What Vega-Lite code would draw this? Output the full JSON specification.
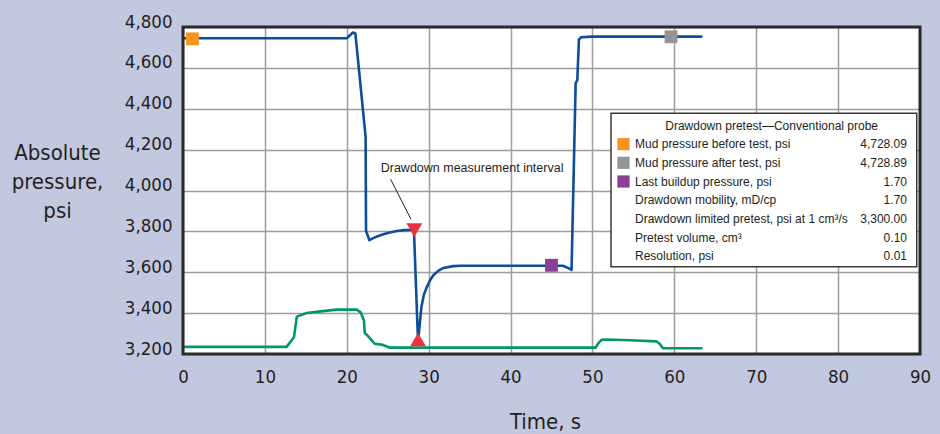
{
  "$schema": "https://vega.github.io/schema/vega-lite/v6.json",
  "width": 737,
  "height": 327,
  "autosize": {"type": "none"},
  "padding": {"left": 183, "top": 27, "right": 20, "bottom": 80},
  "background": "#c3c8e1",
  "config": {
    "font": "DejaVu Sans Condensed, sans-serif",
    "view": {"fill": "white", "stroke": null},
    "axis": {
      "domain": false,
      "ticks": false,
      "grid": true,
      "gridColor": "#9d9d9d",
      "gridWidth": 1.5,
      "labelFont": "DejaVu Sans Condensed, sans-serif",
      "labelFontSize": 18.5,
      "labelColor": "#231f20",
      "titleFont": "DejaVu Sans Condensed, sans-serif",
      "titleFontSize": 22,
      "titleFontWeight": "normal",
      "titleColor": "#231f20",
      "labelFlush": false,
      "labelOverlap": false
    }
  },
  "datasets": {
    "curves": [
      {"series": "Probe pressure", "t": 0, "p": 4745},
      {"series": "Probe pressure", "t": 20.0, "p": 4745},
      {"series": "Probe pressure", "t": 20.75, "p": 4773},
      {"series": "Probe pressure", "t": 21.05, "p": 4768},
      {"series": "Probe pressure", "t": 22.3, "p": 4262},
      {"series": "Probe pressure", "t": 22.35, "p": 3803},
      {"series": "Probe pressure", "t": 22.75, "p": 3757},
      {"series": "Probe pressure", "t": 23.3, "p": 3768},
      {"series": "Probe pressure", "t": 24.0, "p": 3780},
      {"series": "Probe pressure", "t": 25.0, "p": 3792},
      {"series": "Probe pressure", "t": 26.1, "p": 3802},
      {"series": "Probe pressure", "t": 27.0, "p": 3806},
      {"series": "Probe pressure", "t": 28.2, "p": 3808},
      {"series": "Probe pressure", "t": 28.7, "p": 3262},
      {"series": "Probe pressure", "t": 28.9, "p": 3340},
      {"series": "Probe pressure", "t": 29.1, "p": 3425},
      {"series": "Probe pressure", "t": 29.4, "p": 3488},
      {"series": "Probe pressure", "t": 29.75, "p": 3525},
      {"series": "Probe pressure", "t": 30.2, "p": 3563},
      {"series": "Probe pressure", "t": 30.6, "p": 3586},
      {"series": "Probe pressure", "t": 31.2, "p": 3608},
      {"series": "Probe pressure", "t": 31.8, "p": 3621},
      {"series": "Probe pressure", "t": 33.0, "p": 3630},
      {"series": "Probe pressure", "t": 34.0, "p": 3632},
      {"series": "Probe pressure", "t": 46.4, "p": 3632},
      {"series": "Probe pressure", "t": 47.05, "p": 3620},
      {"series": "Probe pressure", "t": 47.45, "p": 3612},
      {"series": "Probe pressure", "t": 47.95, "p": 4525},
      {"series": "Probe pressure", "t": 48.15, "p": 4540},
      {"series": "Probe pressure", "t": 48.35, "p": 4738},
      {"series": "Probe pressure", "t": 48.6, "p": 4750},
      {"series": "Probe pressure", "t": 49.9, "p": 4753},
      {"series": "Probe pressure", "t": 63.3, "p": 4753},
      {"series": "Pretest", "t": 0, "p": 3235},
      {"series": "Pretest", "t": 12.65, "p": 3235},
      {"series": "Pretest", "t": 13.55, "p": 3282},
      {"series": "Pretest", "t": 13.9, "p": 3383},
      {"series": "Pretest", "t": 15.1, "p": 3401},
      {"series": "Pretest", "t": 16.3, "p": 3406},
      {"series": "Pretest", "t": 18.75, "p": 3417},
      {"series": "Pretest", "t": 21.2, "p": 3417},
      {"series": "Pretest", "t": 21.7, "p": 3404},
      {"series": "Pretest", "t": 22.1, "p": 3363},
      {"series": "Pretest", "t": 22.2, "p": 3303},
      {"series": "Pretest", "t": 22.8, "p": 3279},
      {"series": "Pretest", "t": 23.4, "p": 3250},
      {"series": "Pretest", "t": 24.25, "p": 3246},
      {"series": "Pretest", "t": 25.3, "p": 3231},
      {"series": "Pretest", "t": 50.4, "p": 3231},
      {"series": "Pretest", "t": 50.7, "p": 3252},
      {"series": "Pretest", "t": 51.1, "p": 3269},
      {"series": "Pretest", "t": 51.7, "p": 3271},
      {"series": "Pretest", "t": 54.6, "p": 3267},
      {"series": "Pretest", "t": 57.8, "p": 3262},
      {"series": "Pretest", "t": 58.2, "p": 3250},
      {"series": "Pretest", "t": 58.6, "p": 3228},
      {"series": "Pretest", "t": 63.3, "p": 3228}
    ],
    "markers": [
      {"marker": "Mud pressure before test", "t": 1.15, "p": 4742},
      {"marker": "Mud pressure after test", "t": 59.6, "p": 4752},
      {"marker": "Last buildup pressure", "t": 45.0, "p": 3634},
      {"marker": "Interval start", "t": 28.25, "p": 3806},
      {"marker": "Interval end", "t": 28.7, "p": 3271}
    ],
    "table": [
      {"row": 0, "label": "Drawdown pretest—Conventional probe", "value": ""},
      {"row": 1, "label": "Mud pressure before test, psi", "value": "4,728.09", "marker": "Mud pressure before test"},
      {"row": 2, "label": "Mud pressure after test, psi", "value": "4,728.89", "marker": "Mud pressure after test"},
      {"row": 3, "label": "Last buildup pressure, psi", "value": "1.70", "marker": "Last buildup pressure"},
      {"row": 4, "label": "Drawdown mobility, mD/cp", "value": "1.70"},
      {"row": 5, "label": "Drawdown limited pretest, psi at 1 cm³/s", "value": "3,300.00"},
      {"row": 6, "label": "Pretest volume, cm³", "value": "0.10"},
      {"row": 7, "label": "Resolution, psi", "value": "0.01"}
    ]
  },
  "layer": [
    {
      "layer": [
        {
          "data": {"name": "curves"},
          "mark": {"type": "line", "strokeWidth": 2.6, "strokeJoin": "round", "strokeCap": "round"},
          "encoding": {
            "x": {
              "field": "t", "type": "quantitative",
              "scale": {"domain": [0, 90], "nice": false, "zero": false},
              "axis": {"values": [0, 10, 20, 30, 40, 50, 60, 70, 80, 90], "format": "d", "title": "Time, s", "titleX": 362, "titleY": 74, "titleBaseline": "alphabetic", "labelBaseline": "alphabetic", "labelPadding": 28}
            },
            "y": {
              "field": "p", "type": "quantitative",
              "scale": {"domain": [3200, 4800], "nice": false, "zero": false},
              "axis": {"values": [3200, 3400, 3600, 3800, 4000, 4200, 4400, 4600, 4800], "format": ",d", "title": ["Absolute", "pressure,", "psi"], "titleAngle": 0, "titleAlign": "center", "titleBaseline": "alphabetic", "titleX": -126, "titleY": 132, "titleLineHeight": 29, "labelBaseline": "alphabetic", "labelPadding": 11}
            },
            "stroke": {
              "field": "series", "type": "nominal",
              "scale": {"domain": ["Probe pressure", "Pretest"], "range": ["#0d4e9a", "#00976d"]},
              "legend": null
            }
          }
        },
        {
          "data": {"values": [{}]},
          "mark": {"type": "rule", "color": "#231f20", "strokeWidth": 1},
          "encoding": {
            "x": {"datum": 25.36, "type": "quantitative",
              "axis": {"values": [0, 10, 20, 30, 40, 50, 60, 70, 80, 90], "format": "d", "title": "Time, s", "titleX": 362, "titleY": 74, "titleBaseline": "alphabetic", "labelBaseline": "alphabetic", "labelPadding": 28}},
            "x2": {"datum": 27.84},
            "y": {"datum": 4055, "type": "quantitative",
              "axis": {"values": [3200, 3400, 3600, 3800, 4000, 4200, 4400, 4600, 4800], "format": ",d", "title": ["Absolute", "pressure,", "psi"], "titleAngle": 0, "titleAlign": "center", "titleBaseline": "alphabetic", "titleX": -126, "titleY": 132, "titleLineHeight": 29, "labelBaseline": "alphabetic", "labelPadding": 11}},
            "y2": {"datum": 3859}
          }
        },
        {
          "data": {"values": [{}]},
          "mark": {"type": "text", "text": "Drawdown measurement interval", "font": "Liberation Sans, Arial, sans-serif", "fontSize": 12.5, "color": "#231f20", "align": "center", "baseline": "middle"},
          "encoding": {
            "x": {"datum": 35.3, "type": "quantitative",
              "axis": {"values": [0, 10, 20, 30, 40, 50, 60, 70, 80, 90], "format": "d", "title": "Time, s", "titleX": 362, "titleY": 74, "titleBaseline": "alphabetic", "labelBaseline": "alphabetic", "labelPadding": 28}},
            "y": {"datum": 4108, "type": "quantitative",
              "axis": {"values": [3200, 3400, 3600, 3800, 4000, 4200, 4400, 4600, 4800], "format": ",d", "title": ["Absolute", "pressure,", "psi"], "titleAngle": 0, "titleAlign": "center", "titleBaseline": "alphabetic", "titleX": -126, "titleY": 132, "titleLineHeight": 29, "labelBaseline": "alphabetic", "labelPadding": 11}}
          }
        },
        {
          "data": {"name": "markers"},
          "transform": [{"filter": "datum.marker == 'Interval start' || datum.marker == 'Interval end'"}],
          "mark": {"type": "point", "filled": true, "opacity": 1, "size": 250, "strokeWidth": 0},
          "encoding": {
            "x": {"field": "t", "type": "quantitative",
              "axis": {"values": [0, 10, 20, 30, 40, 50, 60, 70, 80, 90], "format": "d", "title": "Time, s", "titleX": 362, "titleY": 74, "titleBaseline": "alphabetic", "labelBaseline": "alphabetic", "labelPadding": 28}},
            "y": {"field": "p", "type": "quantitative",
              "axis": {"values": [3200, 3400, 3600, 3800, 4000, 4200, 4400, 4600, 4800], "format": ",d", "title": ["Absolute", "pressure,", "psi"], "titleAngle": 0, "titleAlign": "center", "titleBaseline": "alphabetic", "titleX": -126, "titleY": 132, "titleLineHeight": 29, "labelBaseline": "alphabetic", "labelPadding": 11}},
            "shape": {
              "field": "marker", "type": "nominal",
              "scale": {"domain": ["Interval start", "Interval end"], "range": ["triangle-down", "triangle-up"]},
              "legend": null
            },
            "color": {
              "field": "marker", "type": "nominal",
              "scale": {
                "domain": ["Mud pressure before test", "Mud pressure after test", "Last buildup pressure", "Interval start", "Interval end"],
                "range": ["#f7941d", "#939598", "#8b3f98", "#e8343f", "#e8343f"]
              },
              "legend": null
            }
          }
        },
        {
          "data": {"name": "markers"},
          "transform": [{"filter": "datum.marker != 'Interval start' && datum.marker != 'Interval end'"}],
          "mark": {"type": "square", "filled": true, "opacity": 1, "size": 165, "strokeWidth": 0},
          "encoding": {
            "x": {"field": "t", "type": "quantitative",
              "axis": {"values": [0, 10, 20, 30, 40, 50, 60, 70, 80, 90], "format": "d", "title": "Time, s", "titleX": 362, "titleY": 74, "titleBaseline": "alphabetic", "labelBaseline": "alphabetic", "labelPadding": 28}},
            "y": {"field": "p", "type": "quantitative",
              "axis": {"values": [3200, 3400, 3600, 3800, 4000, 4200, 4400, 4600, 4800], "format": ",d", "title": ["Absolute", "pressure,", "psi"], "titleAngle": 0, "titleAlign": "center", "titleBaseline": "alphabetic", "titleX": -126, "titleY": 132, "titleLineHeight": 29, "labelBaseline": "alphabetic", "labelPadding": 11}},
            "color": {
              "field": "marker", "type": "nominal",
              "scale": {
                "domain": ["Mud pressure before test", "Mud pressure after test", "Last buildup pressure", "Interval start", "Interval end"],
                "range": ["#f7941d", "#939598", "#8b3f98", "#e8343f", "#e8343f"]
              },
              "legend": null
            }
          }
        },
        {
          "data": {"values": [{}]},
          "mark": {"type": "rect", "fillOpacity": 0, "stroke": "#2a2a2a", "strokeWidth": 3},
          "encoding": {
            "x": {"datum": 0, "type": "quantitative",
              "axis": {"values": [0, 10, 20, 30, 40, 50, 60, 70, 80, 90], "format": "d", "title": "Time, s", "titleX": 362, "titleY": 74, "titleBaseline": "alphabetic", "labelBaseline": "alphabetic", "labelPadding": 28}},
            "x2": {"datum": 90},
            "y": {"datum": 3200, "type": "quantitative",
              "axis": {"values": [3200, 3400, 3600, 3800, 4000, 4200, 4400, 4600, 4800], "format": ",d", "title": ["Absolute", "pressure,", "psi"], "titleAngle": 0, "titleAlign": "center", "titleBaseline": "alphabetic", "titleX": -126, "titleY": 132, "titleLineHeight": 29, "labelBaseline": "alphabetic", "labelPadding": 11}},
            "y2": {"datum": 4800}
          }
        }
      ]
    },
    {
      "layer": [
        {
          "data": {"values": [{}]},
          "mark": {"type": "rect", "fill": "white", "stroke": "#3a3a3a", "strokeWidth": 1.5},
          "encoding": {
            "x": {"datum": 52.27, "type": "quantitative",
              "axis": {"values": [0, 10, 20, 30, 40, 50, 60, 70, 80, 90], "format": "d", "title": "Time, s", "titleX": 362, "titleY": 74, "titleBaseline": "alphabetic", "labelBaseline": "alphabetic", "labelPadding": 28}},
            "x2": {"datum": 89.6},
            "y": {"datum": -0.654, "type": "quantitative", "axis": null, "scale": {"domain": [-5.276, 12.239], "reverse": true, "nice": false, "zero": false}},
            "y2": {"datum": 7.563}
          }
        },
        {
          "data": {"name": "table"},
          "transform": [{"filter": "datum.row == 0"}],
          "mark": {"type": "text", "font": "Liberation Sans, Arial, sans-serif", "fontSize": 12, "color": "#231f20", "align": "center", "baseline": "middle"},
          "encoding": {
            "x": {"datum": 71.88, "type": "quantitative",
              "axis": {"values": [0, 10, 20, 30, 40, 50, 60, 70, 80, 90], "format": "d", "title": "Time, s", "titleX": 362, "titleY": 74, "titleBaseline": "alphabetic", "labelBaseline": "alphabetic", "labelPadding": 28}},
            "y": {"field": "row", "type": "quantitative", "axis": null, "scale": {"domain": [-5.276, 12.239], "reverse": true, "nice": false, "zero": false}},
            "text": {"field": "label"}
          }
        },
        {
          "data": {"name": "table"},
          "transform": [{"filter": "datum.row > 0"}],
          "mark": {"type": "text", "font": "Liberation Sans, Arial, sans-serif", "fontSize": 12, "color": "#231f20", "align": "left", "baseline": "middle"},
          "encoding": {
            "x": {"datum": 55.2, "type": "quantitative",
              "axis": {"values": [0, 10, 20, 30, 40, 50, 60, 70, 80, 90], "format": "d", "title": "Time, s", "titleX": 362, "titleY": 74, "titleBaseline": "alphabetic", "labelBaseline": "alphabetic", "labelPadding": 28}},
            "y": {"field": "row", "type": "quantitative", "axis": null, "scale": {"domain": [-5.276, 12.239], "reverse": true, "nice": false, "zero": false}},
            "text": {"field": "label"}
          }
        },
        {
          "data": {"name": "table"},
          "transform": [{"filter": "datum.row > 0"}],
          "mark": {"type": "text", "font": "Liberation Sans, Arial, sans-serif", "fontSize": 12, "color": "#231f20", "align": "right", "baseline": "middle"},
          "encoding": {
            "x": {"datum": 88.41, "type": "quantitative",
              "axis": {"values": [0, 10, 20, 30, 40, 50, 60, 70, 80, 90], "format": "d", "title": "Time, s", "titleX": 362, "titleY": 74, "titleBaseline": "alphabetic", "labelBaseline": "alphabetic", "labelPadding": 28}},
            "y": {"field": "row", "type": "quantitative", "axis": null, "scale": {"domain": [-5.276, 12.239], "reverse": true, "nice": false, "zero": false}},
            "text": {"field": "value"}
          }
        },
        {
          "data": {"name": "table"},
          "transform": [{"filter": "isValid(datum.marker)"}],
          "mark": {"type": "square", "filled": true, "opacity": 1, "size": 150, "strokeWidth": 0},
          "encoding": {
            "x": {"datum": 53.79, "type": "quantitative",
              "axis": {"values": [0, 10, 20, 30, 40, 50, 60, 70, 80, 90], "format": "d", "title": "Time, s", "titleX": 362, "titleY": 74, "titleBaseline": "alphabetic", "labelBaseline": "alphabetic", "labelPadding": 28}},
            "y": {"field": "row", "type": "quantitative", "axis": null, "scale": {"domain": [-5.276, 12.239], "reverse": true, "nice": false, "zero": false}},
            "color": {
              "field": "marker", "type": "nominal",
              "scale": {
                "domain": ["Mud pressure before test", "Mud pressure after test", "Last buildup pressure", "Interval start", "Interval end"],
                "range": ["#f7941d", "#939598", "#8b3f98", "#e8343f", "#e8343f"]
              },
              "legend": null
            }
          }
        }
      ]
    }
  ],
  "resolve": {"scale": {"y": "independent"}}
}
